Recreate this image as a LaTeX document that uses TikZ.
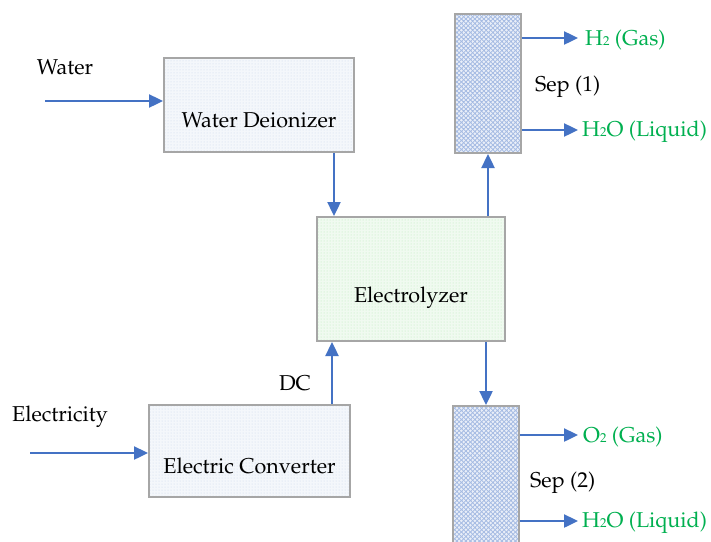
\documentclass[tikz,border=0pt]{standalone}
\usepackage[T1]{fontenc}
\usepackage{mathpazo}
\usetikzlibrary{patterns,arrows.meta}
\definecolor{arrblue}{HTML}{4472C4}
\definecolor{boxgray}{HTML}{A6A6A6}
\definecolor{txtgreen}{HTML}{00B050}
\pgfdeclarepatternformonly{sepcircles}{\pgfqpoint{-1pt}{-1pt}}{\pgfqpoint{5.5pt}{5.5pt}}{\pgfqpoint{4.5pt}{4.5pt}}{%
  \pgfpathcircle{\pgfqpoint{0pt}{0pt}}{1.5pt}\pgfusepath{fill}
  \pgfpathcircle{\pgfqpoint{2.25pt}{2.25pt}}{1.5pt}\pgfusepath{fill}
}
\newcommand{\lowsub}[1]{{\fontsize{13}{13}\selectfont #1}}
\tikzset{
  arr/.style={draw=arrblue,line width=2.4pt,-{Triangle[length=14pt,width=13pt]}},
  unitbox/.style={draw=boxgray,line width=2pt,preaction={fill=#1!6},pattern=dots,pattern color=#1!28,inner sep=0pt},
  sepbox/.style={draw=boxgray,line width=2pt,preaction={fill=arrblue!48},pattern=sepcircles,pattern color=arrblue!12,inner sep=0pt,minimum width=66pt},
  lbl/.style={font=\fontsize{21.5}{25}\selectfont,inner sep=0pt},
  glbl/.style={lbl,text=txtgreen,anchor=west}
}
\begin{document}
\begin{tikzpicture}[x=1pt,y=-1pt]
\useasboundingbox (0,0) rectangle (711,541);
\fill[white] (0,0) rectangle (711,541);
% units
\node[unitbox=arrblue,minimum width=190pt,minimum height=94pt,lbl] (deion) at (259,105) {\raisebox{-22pt}[0pt][0pt]{Water Deionizer}};
\node[unitbox=green!70!black,minimum width=188pt,minimum height=124pt,lbl] (elec) at (411,279) {\raisebox{-23pt}[0pt][0pt]{Electrolyzer}};
\node[unitbox=arrblue,minimum width=201pt,minimum height=92pt,lbl] (conv) at (249.5,451) {\raisebox{-22pt}[0pt][0pt]{Electric Converter}};
\node[sepbox,minimum height=139pt] (sep1) at (488,83.5) {};
\node[sepbox,minimum height=140pt] (sep2) at (486,476) {};
% labels
\node[lbl] (lwater) at (65,67) {Water};
\node[lbl] (lelec) at (60,417) {Electricity};
\node[lbl] (ldc) at (295,383) {DC};
\node[lbl,anchor=west] (lsep1) at (535,87) {Sep (1)};
\node[lbl,anchor=west] (lsep2) at (530,483) {Sep (2)};
% inputs
\coordinate (win) at (45,101);
\coordinate (ein) at (30,453);
\draw[arr] (win) -- (win -| deion.west);
\draw[arr] (ein) -- (ein -| conv.west);
% internal flows
\draw[arr] ([xshift=-21pt]deion.south east) -- ([xshift=-21pt]deion.south east |- elec.north);
\draw[arr] ([xshift=-19pt]conv.north east) -- ([xshift=-19pt]conv.north east |- elec.south);
\draw[arr] (elec.north -| sep1.south) -- (sep1.south);
\draw[arr] (elec.south -| sep2.north) -- (sep2.north);
% outputs
\coordinate (o1) at (578,38);
\coordinate (o2) at (578,130);
\coordinate (o3) at (578,435);
\coordinate (o4) at (578,521);
\draw[arr] (o1 -| sep1.east) -- (o1);
\draw[arr] (o2 -| sep1.east) -- (o2);
\draw[arr] (o3 -| sep2.east) -- (o3);
\draw[arr] (o4 -| sep2.east) -- (o4);
\node[glbl] (t1) at (585,40) {H\lowsub{2} (Gas)};
\node[glbl] (t2) at (582,132) {H\lowsub{2}O (Liquid)};
\node[glbl] (t3) at (583,437) {O\lowsub{2} (Gas)};
\node[glbl] (t4) at (582,523) {H\lowsub{2}O (Liquid)};
\end{tikzpicture}
\end{document}
